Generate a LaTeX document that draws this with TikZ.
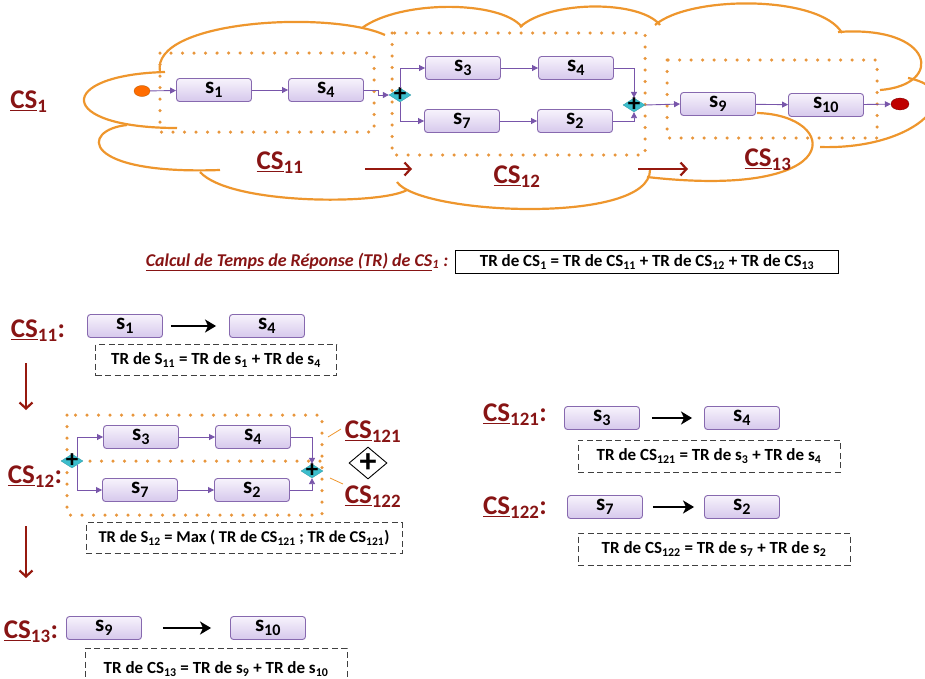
\documentclass[tikz,border=0pt]{standalone}
\usepackage{fontspec}
\setmainfont{Carlito}
\usetikzlibrary{arrows.meta, positioning, shapes.geometric}

\definecolor{cloudor}{RGB}{238,150,45}
\definecolor{dotor}{RGB}{232,150,60}
\definecolor{csred}{RGB}{135,20,20}
\definecolor{arrred}{RGB}{150,25,15}
\definecolor{svctop}{RGB}{247,243,252}
\definecolor{svcbot}{RGB}{214,200,236}
\definecolor{svcline}{RGB}{135,105,175}
\definecolor{flowcol}{RGB}{120,85,170}
\definecolor{gatecol}{RGB}{60,190,205}

\newcommand{\CSlab}[1]{\underline{CS}\textsubscript{#1}}

\begin{document}
\begin{tikzpicture}[x=1pt, y=-1pt,
    svc/.style={rectangle, rounded corners=3pt, draw=svcline, line width=0.9pt, top color=svctop, bottom color=svcbot, minimum width=75pt, minimum height=23pt, inner sep=0pt, font=\bfseries\fontsize{23}{23}\selectfont},
    flow/.style={-{Triangle[length=6pt,width=6pt]}, draw=flowcol, line width=0.9pt},
    gate/.style={diamond, fill=gatecol, draw=gatecol!80!black, line width=0.3pt, minimum width=22pt, minimum height=14pt, inner sep=0pt, label={[font=\bfseries\fontsize{25}{25}\selectfont, inner sep=0pt]center:+}},
    cslab/.style={font=\bfseries\fontsize{27}{27}\selectfont, text=csred, inner sep=0pt},
    cloudline/.style={draw=cloudor, line width=2.2pt},
    dotbox/.style={draw=dotor, line width=3.5pt, line cap=round, dash pattern=on 0pt off 11.5pt},
    redarr/.style={-{Straight Barb[length=6pt,width=13pt]}, draw=arrred, line width=2.2pt},
    blk/.style={-{Stealth[length=11pt,width=13pt,inset=3pt]}, line width=2.4pt},
    dashbox/.style={rectangle, draw=black!75, line width=1pt, dash pattern=on 6pt off 3.5pt, inner sep=0pt, font=\bfseries\fontsize{17}{17}\selectfont}
]
    \useasboundingbox (0,0) rectangle (925,678);

    % nuage CS1
    \draw[cloudline] (177,128) .. controls (55,128) and (55,75) .. (165,72);
    \draw[cloudline] (160,72) .. controls (150,20) and (330,10) .. (385,35);
    \draw[cloudline] (362,28) .. controls (400,0) and (500,0) .. (522,27);
    \draw[cloudline] (520,27) .. controls (550,0) and (640,0) .. (660,25);
    \draw[cloudline] (655,25) .. controls (690,-5) and (820,-5) .. (842,33);
    \draw[cloudline] (838,32) .. controls (935,25) and (945,85) .. (880,90);
    \draw[cloudline] (908,78) .. controls (970,90) and (920,150) .. (820,147);
    \draw[cloudline] (757,113) .. controls (840,115) and (850,200) .. (647,177);
    \draw[cloudline] (650,170) .. controls (650,225) and (420,215) .. (397,182);
    \draw[cloudline] (407,190) .. controls (380,205) and (230,205) .. (200,172);
    \draw[cloudline] (220,170) .. controls (80,175) and (80,130) .. (127,125);

    % sous-compositions (pointilles)
    \draw[dotbox] (160,53) rectangle (374,132);
    \draw[dotbox] (392,33) rectangle (645,155);
    \draw[dotbox] (667,60) rectangle (877,138);

    % CS1
    \node[cslab] (cs1) at (29,102) {\CSlab{1}};
    \node[ellipse, fill=orange!85!red, draw=orange!70!black, line width=0.3pt, minimum width=16pt, minimum height=11pt, inner sep=0pt] (start) at (142,91) {};
    \node[svc] (s1) at (214,90) {s\textsubscript{1}};
    \node[svc] (s4) at (326,90) {s\textsubscript{4}};
    \node[gate] (g1) at (400,95) {};
    \node[svc] (s3) at (463,68) {s\textsubscript{3}};
    \node[svc] (s4b) at (576,68) {s\textsubscript{4}};
    \node[svc] (s7) at (462,121) {s\textsubscript{7}};
    \node[svc] (s2) at (575,121) {s\textsubscript{2}};
    \node[gate] (g2) at (634,105) {};
    \node[svc] (s9) at (718,104) {s\textsubscript{9}};
    \node[svc] (s10) at (826,105) {s\textsubscript{10}};
    \node[ellipse, fill=red!75!black, draw=red!45!black, line width=0.3pt, minimum width=18pt, minimum height=12pt, inner sep=0pt] (end) at (900,104) {};

    \draw[flow] (start) -- (s1);
    \draw[flow] (s1) -- (s4);
    \draw[flow] (s4.east) -- ++(14,0) |- (g1.west);
    \draw[flow] (g1.north) |- (s3.west);
    \draw[flow] (g1.south) |- (s7.west);
    \draw[flow] (s3) -- (s4b);
    \draw[flow] (s7) -- (s2);
    \draw[flow] (s4b.east) -| (g2.north);
    \draw[flow] (s2.east) -| (g2.south);
    \draw[flow] (g2.east) -- (s9.west);
    \draw[flow] (s9) -- (s10);
    \draw[flow] (s10) -- (end);

    \node[cslab] (cs11) at (280,163) {\CSlab{11}};
    \node[cslab] (cs12) at (517,177) {\CSlab{12}};
    \node[cslab] (cs13) at (768,160) {\CSlab{13}};
    \coordinate (ra1) at (365,169);
    \coordinate (rb1) at (412,169);
    \coordinate (ra2) at (638,169);
    \coordinate (rb2) at (688,169);
    \draw[redarr] (ra1) -- (rb1);
    \draw[redarr] (ra2) -- (rb2);

    % calcul du TR
    \node[font=\bfseries\itshape\fontsize{18}{18}\selectfont, text=csred, inner sep=0pt] (calc) at (297,262) {\underline{Calcul de Temps de Réponse (TR) de CS}\textsubscript{1} :};
    \node[rectangle, draw, line width=1pt, minimum width=383pt, minimum height=23pt, inner sep=0pt, font=\bfseries\fontsize{17}{17}\selectfont] (tr1) at (647,262) {TR de CS\textsubscript{1} = TR de CS\textsubscript{11} + TR de CS\textsubscript{12} + TR de CS\textsubscript{13}};

    % CS11
    \node[cslab] (l11) at (38,331) {\CSlab{11}:};
    \node[svc] (a1) at (125,326) {s\textsubscript{1}};
    \node[svc] (a4) at (267,326) {s\textsubscript{4}};
    \draw[blk, shorten <=8pt, shorten >=13pt] (a1) -- (a4);
    \node[dashbox, minimum width=241pt, minimum height=31pt] (tr11) at (216,360) {TR de S\textsubscript{11} = TR de s\textsubscript{1} + TR de s\textsubscript{4}};
    \coordinate (d1a) at (26,363);
    \coordinate (d1b) at (26,410);
    \draw[redarr] (d1a) -- (d1b);

    % CS12
    \draw[dotbox] (67,415) rectangle (322,515);
    \draw[dotbox] (67,461) -- (322,461);
    \node[cslab] (l12) at (35,477) {\CSlab{12}:};
    \node[svc] (b3) at (141,437) {s\textsubscript{3}};
    \node[svc] (b4) at (253,437) {s\textsubscript{4}};
    \node[svc] (b7) at (140,490) {s\textsubscript{7}};
    \node[svc] (b2) at (252,490) {s\textsubscript{2}};
    \node[gate] (lg) at (72,461) {};
    \node[gate] (rg) at (312,471) {};
    \draw[flow] (lg.north east) |- (b3.west);
    \draw[flow] (lg.south east) |- (b7.west);
    \draw[flow] (b3) -- (b4);
    \draw[flow] (b7) -- (b2);
    \draw[flow] (b4.east) -| (rg.north);
    \draw[flow] (b2.east) -| (rg.south);
    \node[cslab] (l121) at (373,432) {\CSlab{121}};
    \node[cslab] (l122) at (373,497) {\CSlab{122}};
    \coordinate (k1) at (328,437);
    \coordinate (k1b) at (341,429);
    \coordinate (k2) at (330,478);
    \coordinate (k2b) at (343,484);
    \draw[cloudor, line width=0.8pt] (k1) -- (k1b);
    \draw[cloudor, line width=0.8pt] (k2) -- (k2b);
    \node[diamond, draw, fill=white, line width=0.9pt, minimum width=38pt, minimum height=32pt, inner sep=0pt] (par) at (368,463) {};
    \node[font=\bfseries\fontsize{34}{34}\selectfont, inner sep=0pt] at (par.center) {+};
    \node[dashbox, minimum width=316pt, minimum height=31pt, font=\bfseries\fontsize{16.5}{16.5}\selectfont] (tr12) at (244,538) {TR de S\textsubscript{12} = Max ( TR de CS\textsubscript{121} ; TR de CS\textsubscript{121})};
    \coordinate (d2a) at (26,526);
    \coordinate (d2b) at (26,578);
    \draw[redarr] (d2a) -- (d2b);

    % CS13
    \node[cslab] (l13) at (31,632) {\CSlab{13}:};
    \node[svc] (c9) at (104,628) {s\textsubscript{9}};
    \node[svc] (c10) at (268,628) {s\textsubscript{10}};
    \draw[blk, shorten <=21pt, shorten >=19pt] (c9) -- (c10);
    \node[dashbox, minimum width=262pt, minimum height=42pt] (tr13) at (216,669) {TR de CS\textsubscript{13} = TR de s\textsubscript{9} + TR de s\textsubscript{10}};

    % CS121
    \node[cslab] (r121) at (515,415) {\CSlab{121}:};
    \node[svc] (e3) at (602,418) {s\textsubscript{3}};
    \node[svc] (e4) at (742,418) {s\textsubscript{4}};
    \draw[blk, shorten <=12pt, shorten >=12pt] (e3) -- (e4);
    \node[dashbox, minimum width=262pt, minimum height=32pt] (tr121) at (709,456) {TR de CS\textsubscript{121} = TR de s\textsubscript{3} + TR de s\textsubscript{4}};

    % CS122
    \node[cslab] (r122) at (515,508) {\CSlab{122}:};
    \node[svc] (e7) at (605,507) {s\textsubscript{7}};
    \node[svc] (e2) at (742,507) {s\textsubscript{2}};
    \draw[blk, shorten <=10pt, shorten >=10pt] (e7) -- (e2);
    \node[dashbox, minimum width=272pt, minimum height=32pt] (tr122) at (714,549) {TR de CS\textsubscript{122} = TR de s\textsubscript{7} + TR de s\textsubscript{2}};
\end{tikzpicture}
\end{document}
